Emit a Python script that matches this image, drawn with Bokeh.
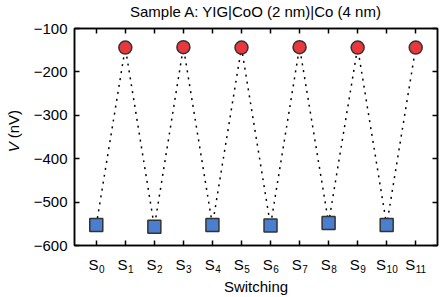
import math
from bokeh.plotting import figure
from bokeh.models import (FixedTicker, LinearAxis, Range1d, CustomJSTickFormatter,
                          ColumnDataSource)
from bokeh.layouts import column, row
from bokeh.core.properties import value
from bokeh.embed import file_html
from bokeh.resources import INLINE

switch_idx = list(range(12))
tick_main = ["S"] * 12
tick_sub = ["0", "1", "2", "3", "4", "5", "6", "7", "8", "9", "10", "11"]
voltage = [-553, -144, -557, -143, -553, -144, -554, -143, -548, -144, -553, -144]
y_ticks = [-600, -500, -400, -300, -200, -100]
y_tick_labels = ["−600", "−500", "−400", "−300", "−200", "−100"]
title_text = "Sample A: YIG|CoO (2 nm)|Co (4 nm)"
x_title = "Switching"

even_x = [switch_idx[i] for i in range(0, 12, 2)]
even_v = [voltage[i] for i in range(0, 12, 2)]
odd_x = [switch_idx[i] for i in range(1, 12, 2)]
odd_v = [voltage[i] for i in range(1, 12, 2)]

FONT = "Liberation Sans"
LW = 68            # width of the left strip (y tick labels and y title)
W = 442 - LW       # width of the plot column
LB, RB = 6, 5
TOP_H, FRAME_TOP, FRAME_H, FRAME_BOT = 20, 8, 217, 5
MAIN_H = FRAME_TOP + FRAME_H + FRAME_BOT
BOT_H = 297 - TOP_H - MAIN_H


def strip(h, x_range):
    f = figure(width=W, height=h, output_backend="svg", toolbar_location=None,
               x_range=x_range, y_range=Range1d(0, h),
               x_axis_location=None, y_axis_location=None,
               min_border_left=LB, min_border_right=RB, min_border_top=0, min_border_bottom=0)
    f.grid.visible = False
    f.outline_line_color = None
    return f


p = figure(width=W, height=MAIN_H, output_backend="svg", toolbar_location=None,
           x_range=Range1d(-0.75, 11.75), y_range=Range1d(-600, -100),
           min_border_left=LB, min_border_right=RB,
           min_border_top=FRAME_TOP, min_border_bottom=FRAME_BOT)

p.line(switch_idx, voltage, line_color="black", line_width=1.5, line_dash="2 5")
p.scatter(even_x, even_v, marker="square", size=13, fill_color="#4a7fd0",
          line_color="#333333", line_width=1.5)
p.scatter(odd_x, odd_v, marker="circle", size=13, fill_color="#e8383d",
          line_color="#333333", line_width=1.5)

p.grid.visible = False
p.outline_line_color = "black"
p.outline_line_width = 1.5

blank = CustomJSTickFormatter(code="return '';")

xa = p.xaxis[0]
xa.ticker = FixedTicker(ticks=switch_idx)
ya = p.yaxis[0]
ya.ticker = FixedTicker(ticks=y_ticks)
top = LinearAxis(ticker=FixedTicker(ticks=switch_idx))
right = LinearAxis(ticker=FixedTicker(ticks=y_ticks))
p.add_layout(top, "above")
p.add_layout(right, "right")

for ax in [xa, ya, top, right]:
    ax.formatter = blank
    ax.major_tick_in = 5
    ax.major_tick_out = 0
    ax.minor_tick_in = 0
    ax.minor_tick_out = 0
    ax.axis_line_color = "black"
    ax.axis_line_width = 1.5
    ax.major_tick_line_width = 1.5
    ax.major_label_text_font_size = "1px"
    ax.major_label_standoff = 0

# title strip
p0 = strip(TOP_H, p.x_range)
p0.text(x=[5.5], y=[9], text=[title_text], text_align="center", text_baseline="middle",
        text_font=value(FONT), text_font_size="15px", text_color="black")

# strip below the plot: x tick labels "S" with subscript index, and x axis title
p2 = strip(BOT_H, p.x_range)
S_W = 10.0
SUB_W = 5.56
offs = [(S_W - len(s) * SUB_W) / 2 for s in tick_sub]
src = ColumnDataSource(dict(x=switch_idx, y1=[BOT_H - 14] * 12, y2=[BOT_H - 18] * 12,
                            main=tick_main, sub=tick_sub,
                            off=offs, off2=[o + 0.5 for o in offs]))
p2.text(x="x", y="y1", text="main", source=src, x_offset="off",
        text_align="right", text_baseline="alphabetic",
        text_font=value(FONT), text_font_size="15px", text_color="black")
p2.text(x="x", y="y2", text="sub", source=src, x_offset="off2",
        text_align="left", text_baseline="alphabetic",
        text_font=value(FONT), text_font_size="10px", text_color="black")
p2.text(x=[5.5], y=[BOT_H - 36], text=[x_title], text_align="center", text_baseline="middle",
        text_font=value(FONT), text_font_size="15px", text_color="black")

# left strip: y tick labels and y axis title with italic V, on the same value scale
k = 500 / FRAME_H
y_top_px = TOP_H + FRAME_TOP
y_bot_px = 297 - y_top_px - FRAME_H
pl = figure(width=LW, height=297, output_backend="svg", toolbar_location=None,
            x_range=Range1d(0, LW), y_range=Range1d(-600 - y_bot_px * k, -100 + y_top_px * k),
            x_axis_location=None, y_axis_location=None,
            min_border_left=0, min_border_right=0, min_border_top=0, min_border_bottom=0)
pl.grid.visible = False
pl.outline_line_color = None
pl.text(x=[LW - 1] * len(y_ticks), y=y_ticks, text=y_tick_labels, text_align="right",
        text_baseline="middle", text_font=value(FONT), text_font_size="15px",
        text_color="black")
pl.text(x=[13], y=[-362], text=["V"], angle=math.pi / 2, text_align="right",
        text_baseline="middle", text_font=value(FONT), text_font_size="15px",
        text_font_style="italic", text_color="black")
pl.text(x=[13], y=[-353], text=["(nV)"], angle=math.pi / 2, text_align="left",
        text_baseline="middle", text_font=value(FONT), text_font_size="15px",
        text_color="black")

layout = row(pl, column(p0, p, p2, spacing=0), spacing=0)
open("out.html", "w").write(file_html(layout, INLINE))
